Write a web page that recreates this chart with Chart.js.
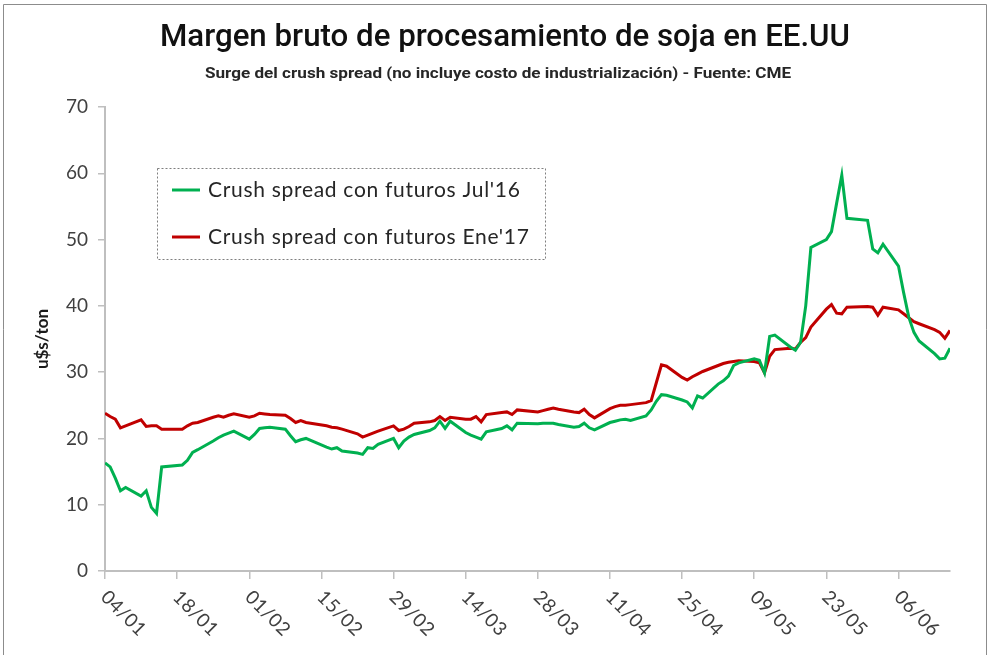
<!DOCTYPE html>
<html><head><meta charset="utf-8">
<script src="https://cdn.jsdelivr.net/npm/chart.js@4/dist/chart.umd.min.js"></script>
<style>html,body{margin:0;padding:0;background:#fff;}#wrap{width:992px;height:655px;position:relative;}</style>
</head><body><div id="wrap"><canvas id="c" width="992" height="655"></canvas></div>
<script>
// ---- data ----
const dates = [
 "04/01","05/01","06/01","07/01","08/01","11/01","12/01","13/01","14/01","15/01","19/01","20/01","21/01","22/01","25/01","26/01","27/01","28/01","29/01",
 "01/02","02/02","03/02","04/02","05/02","08/02","09/02","10/02","11/02","12/02","16/02","17/02","18/02","19/02","22/02","23/02","24/02","25/02","26/02","29/02",
 "01/03","02/03","03/03","04/03","07/03","08/03","09/03","10/03","11/03","14/03","15/03","16/03","17/03","18/03","21/03","22/03","23/03","24/03","28/03","29/03","30/03","31/03",
 "01/04","04/04","05/04","06/04","07/04","08/04","11/04","12/04","13/04","14/04","15/04","18/04","19/04","20/04","21/04","22/04","25/04","26/04","27/04","28/04","29/04",
 "02/05","03/05","04/05","05/05","06/05","09/05","10/05","11/05","12/05","13/05","16/05","17/05","18/05","19/05","20/05","23/05","24/05","25/05","26/05","27/05","31/05",
 "01/06","02/06","03/06","06/06","07/06","08/06","09/06","10/06","13/06","14/06","15/06","16/06"
];
const julValues = [
 16.3,15.7,14.0,12.1,12.6,11.3,12.1,9.6,8.7,15.7,16.0,16.7,17.9,18.3,19.6,20.1,20.5,20.8,21.1,
 19.9,20.6,21.5,21.6,21.7,21.4,20.4,19.5,19.8,20.0,18.7,18.4,18.6,18.1,17.8,17.6,18.6,18.5,19.1,20.0,
 18.6,19.6,20.2,20.6,21.2,21.6,22.6,21.5,22.6,20.9,20.5,20.2,19.9,21.0,21.5,21.9,21.3,22.3,22.2,22.3,22.3,22.3,
 22.1,21.7,21.8,22.3,21.6,21.3,22.4,22.6,22.8,22.9,22.7,23.4,24.3,25.6,26.6,26.5,25.8,25.5,24.6,26.4,26.1,
 28.2,28.7,29.4,31.0,31.4,32.0,31.8,29.9,35.4,35.6,33.8,33.3,34.5,40.0,48.8,50.0,51.2,55.5,59.7,53.2,52.9,
 48.6,48.0,49.3,46.0,42.0,38.3,36.0,34.7,32.8,32.0,32.1,33.6
];
const eneValues = [
 23.8,23.3,22.9,21.6,21.9,22.8,21.8,21.9,21.9,21.4,21.4,21.9,22.3,22.4,23.2,23.4,23.2,23.5,23.7,
 23.2,23.4,23.8,23.7,23.6,23.5,23.0,22.4,22.7,22.4,21.9,21.7,21.6,21.4,20.7,20.2,20.5,20.8,21.1,21.9,
 21.2,21.4,21.8,22.3,22.5,22.7,23.3,22.7,23.2,22.9,22.9,23.3,22.5,23.6,23.9,24.0,23.6,24.3,24.0,24.2,24.4,24.6,
 24.4,24.0,23.9,24.4,23.6,23.1,24.5,24.8,25.0,25.0,25.1,25.4,25.7,28.4,31.1,30.9,29.2,28.8,29.3,29.7,30.1,
 31.0,31.3,31.5,31.6,31.7,31.6,31.4,29.9,32.4,33.4,33.6,33.5,34.5,35.2,36.8,39.5,40.2,38.9,38.8,39.8,39.9,
 39.8,38.6,39.8,39.4,38.8,38.2,37.6,37.3,36.4,36.0,35.1,36.3
];
const seriesLabels = ["Crush spread con futuros Jul'16", "Crush spread con futuros Ene'17"];
const seriesColors = ["#00B050", "#C00000"];
const tickLabels = ["04/01","18/01","01/02","15/02","29/02","14/03","28/03","11/04","25/04","09/05","23/05","06/06"];
const yTickValues = [0,10,20,30,40,50,60,70];
const titleText = "Margen bruto de procesamiento de soja en EE.UU";
const subtitleText = "Surge del crush spread (no incluye costo de industrialización) - Fuente: CME";
const yAxisTitle = "u$s/ton";

// ---- helpers ----
const YEAR = 2016;
function dayOffset(s){ const [d,m] = s.split('/').map(Number); return (Date.UTC(YEAR,m-1,d) - Date.UTC(YEAR,0,4)) / 86400000; }
const xs = dates.map(dayOffset);
const tickOffsets = tickLabels.map(dayOffset);

const AXIS_COLOR = '#bfbfbf';
const TEXT_COLOR = '#404040';
const FONT = 'Lato, "Open Sans", sans-serif';

const framePlugin = {
  id: 'frameTitles',
  afterDraw(chart) {
    const ctx = chart.ctx;
    ctx.save();
    ctx.strokeStyle = '#8c8c8c'; ctx.lineWidth = 1;
    ctx.beginPath(); ctx.moveTo(3.5, 655); ctx.lineTo(3.5, 4.5); ctx.lineTo(986.5, 4.5); ctx.lineTo(986.5, 655); ctx.stroke();
    function drawFit(text, font, cx, baseline, width, color) {
      ctx.font = font; ctx.fillStyle = color; ctx.textAlign = 'left'; ctx.textBaseline = 'alphabetic';
      const w = ctx.measureText(text).width;
      ctx.save(); ctx.translate(cx - width/2, baseline); ctx.scale(width / w, 1); ctx.fillText(text, 0, 0); ctx.restore();
    }
    drawFit(titleText, '500 31px Roboto, sans-serif', 505, 46, 690, '#111111');
    drawFit(subtitleText, 'bold 15px Roboto, sans-serif', 498, 78, 586, '#262626');
    const xs_ = chart.scales.x;
    ctx.font = '19px ' + FONT; ctx.fillStyle = TEXT_COLOR; ctx.textAlign = 'left'; ctx.textBaseline = 'middle';
    try { ctx.letterSpacing = '0.5px'; } catch (e) {}
    xs_.ticks.forEach((t, i) => {
      const px = xs_.getPixelForValue(t.value);
      ctx.save(); ctx.translate(px - 1, xs_.top + 23); ctx.rotate(Math.PI / 4); ctx.fillText(tickLabels[i], 0, 0); ctx.restore();
    });
    const lx = 157.5, ly = 168.5, lw = 388, lh = 91;
    ctx.fillStyle = '#fff'; ctx.fillRect(lx, ly, lw, lh);
    ctx.setLineDash([2, 2]); ctx.strokeStyle = '#7f7f7f'; ctx.lineWidth = 1; ctx.strokeRect(lx, ly, lw, lh); ctx.setLineDash([]);
    try { ctx.letterSpacing = '0.7px'; } catch (e) {}
    chart.data.datasets.forEach((ds, i) => {
      const y = 190 + i * 47;
      ctx.strokeStyle = ds.borderColor; ctx.lineWidth = 3; ctx.beginPath(); ctx.moveTo(172, y); ctx.lineTo(200, y); ctx.stroke();
      ctx.font = '21px ' + FONT; ctx.fillStyle = '#262626'; ctx.textBaseline = 'middle'; ctx.textAlign = 'left';
      ctx.fillText(ds.label, 208, y);
    });
    ctx.restore();
  }
};

new Chart(document.getElementById('c'), {
  type: 'line',
  data: {
    datasets: [
      { label: seriesLabels[0], data: xs.map((x, i) => ({x, y: julValues[i]})), borderColor: seriesColors[0], backgroundColor: seriesColors[0], borderWidth: 3, pointRadius: 0, tension: 0 },
      { label: seriesLabels[1], data: xs.map((x, i) => ({x, y: eneValues[i]})), borderColor: seriesColors[1], backgroundColor: seriesColors[1], borderWidth: 3, pointRadius: 0, tension: 0 }
    ]
  },
  options: {
    responsive: false, animation: false, devicePixelRatio: 1,
    layout: { padding: { top: 107, right: 42, bottom: 0, left: 0 } },
    plugins: { legend: { display: false }, title: { display: false }, tooltip: { enabled: false } },
    scales: {
      x: {
        type: 'linear', min: 0, max: xs[xs.length - 1],
        afterBuildTicks(s) { s.ticks = tickOffsets.map(v => ({ value: v })); },
        afterFit(s) { s.height = 84; },
        ticks: { display: false },
        grid: { display: true, drawOnChartArea: false, drawTicks: true, tickLength: 8, color: AXIS_COLOR, lineWidth: 1.5 },
        border: { display: true, color: AXIS_COLOR, width: 2 }
      },
      y: {
        min: 0, max: 70,
        afterBuildTicks(s) { s.ticks = yTickValues.map(v => ({ value: v })); },
        afterFit(s) { s.width = 105; },
        ticks: { color: TEXT_COLOR, font: { family: FONT, size: 19 }, padding: 10 },
        grid: { display: true, drawOnChartArea: false, drawTicks: true, tickLength: 7, color: AXIS_COLOR, lineWidth: 1.5 },
        border: { display: true, color: AXIS_COLOR, width: 2 },
        title: { display: true, text: yAxisTitle, color: '#1a1a1a', font: { family: FONT, size: 17, weight: 'bold' }, padding: { top: 32, bottom: 0 } }
      }
    }
  },
  plugins: [framePlugin]
});
</script></body></html>
